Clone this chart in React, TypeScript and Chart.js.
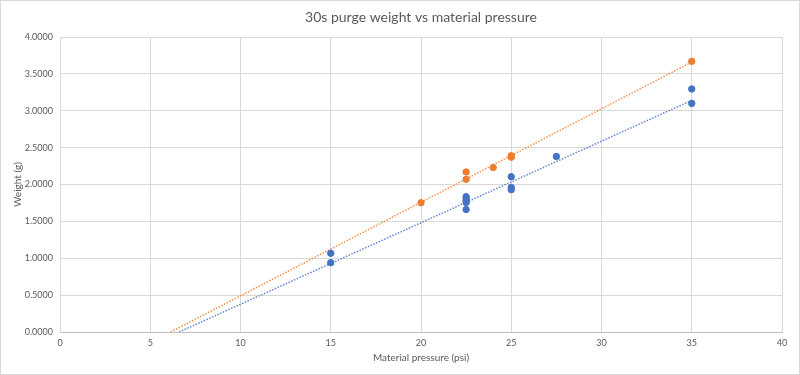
import React, { useEffect, useRef } from "react";
import { Chart, registerables } from "chart.js";

Chart.register(...registerables);

const TITLE = "30s purge weight vs material pressure";
const X_TITLE = "Material pressure (psi)";
const Y_TITLE = "Weight (g)";

const blueX = [15, 15, 22.5, 22.5, 22.5, 22.5, 22.5, 25, 25, 25, 27.5, 35, 35];
const blueY = [1.067, 0.94, 1.835, 1.81, 1.785, 1.755, 1.66, 2.105, 1.96, 1.93, 2.38, 3.295, 3.1];

const orangeX = [20, 22.5, 22.5, 24, 25, 25, 35];
const orangeY = [1.753, 2.17, 2.07, 2.23, 2.39, 2.37, 3.67];

// trendline endpoints
const blueTrendX = [6.6, 35];
const blueTrendY = [0, 3.14];
const orangeTrendX = [6.13, 35];
const orangeTrendY = [0, 3.66];

const BLUE = "#4472C4";
const ORANGE = "#ED7D31";
const GRID = "#d9d9d9";
const TEXT = "#595959";
const FONT = "Lato, 'Open Sans', sans-serif";

const toPts = (xs: number[], ys: number[]) => xs.map((x, i) => ({ x, y: ys[i] }));

const framePlugin = {
  id: "frame",
  beforeDraw(chart: any) {
    const ctx = chart.ctx;
    ctx.save();
    ctx.fillStyle = "#ffffff";
    ctx.fillRect(0, 0, chart.width, chart.height);
    ctx.strokeStyle = "#d9d9d9";
    ctx.lineWidth = 1;
    ctx.strokeRect(0.5, 0.5, chart.width - 1, chart.height - 1);
    ctx.fillStyle = TEXT;
    ctx.font = `14px ${FONT}`;
    ctx.textAlign = "center";
    ctx.textBaseline = "middle";
    ctx.fillText(TITLE, 421, 17);
    ctx.restore();
  },
};

export default function App() {
  const ref = useRef<HTMLCanvasElement | null>(null);
  useEffect(() => {
    const prevMargin = document.body.style.margin;
    document.body.style.margin = "0";
    const chart = new Chart(ref.current as HTMLCanvasElement, {
      type: "scatter",
      data: {
        datasets: [
          {
            label: "Series1",
            data: toPts(blueX, blueY),
            backgroundColor: BLUE,
            borderColor: BLUE,
            pointRadius: 3.2,
            pointHoverRadius: 3.2,
            order: 0,
          },
          {
            label: "Series2",
            data: toPts(orangeX, orangeY),
            backgroundColor: ORANGE,
            borderColor: ORANGE,
            pointRadius: 3.2,
            pointHoverRadius: 3.2,
            order: 0,
          },
          {
            type: "line",
            label: "Trend1",
            data: toPts(blueTrendX, blueTrendY),
            borderColor: "rgba(68,114,196,0.85)",
            borderWidth: 1.5,
            borderDash: [1.5, 1.5],
            pointRadius: 0,
            fill: false,
            order: 1,
          },
          {
            type: "line",
            label: "Trend2",
            data: toPts(orangeTrendX, orangeTrendY),
            borderColor: "rgba(237,125,49,0.85)",
            borderWidth: 1.5,
            borderDash: [1.5, 1.5],
            pointRadius: 0,
            fill: false,
            order: 1,
          },
        ] as any,
      },
      options: {
        animation: false,
        responsive: false,
        maintainAspectRatio: false,
        layout: { padding: { top: 37, right: 18, left: 12, bottom: 0 } },
        plugins: {
          legend: { display: false },
          title: { display: false },
          tooltip: { enabled: false },
        },
        scales: {
          x: {
            type: "linear",
            min: 0,
            max: 40,
            ticks: {
              stepSize: 5,
              color: TEXT,
              font: { family: FONT, size: 9 },
              padding: 6,
            },
            grid: { color: GRID, drawTicks: false },
            border: { color: "#bfbfbf" },
            title: {
              display: true,
              text: X_TITLE,
              color: TEXT,
              font: { family: FONT, size: 10 },
              padding: { top: 4, bottom: 11 },
            },
            afterFit(scale: any) {
              scale.height = 43;
            },
          },
          y: {
            type: "linear",
            min: 0,
            max: 4,
            ticks: {
              stepSize: 0.5,
              color: TEXT,
              font: { family: FONT, size: 9 },
              padding: 7,
              callback: (v: any) => Number(v).toFixed(4),
            },
            grid: { color: GRID, drawTicks: false },
            border: { color: GRID },
            title: {
              display: true,
              text: Y_TITLE,
              color: TEXT,
              font: { family: FONT, size: 10 },
              padding: { top: 0, bottom: 0 },
            },
            afterFit(scale: any) {
              scale.width = 48;
            },
          },
        },
      } as any,
      plugins: [framePlugin],
    });
    return () => {
      chart.destroy();
      document.body.style.margin = prevMargin;
    };
  }, []);
  return (
    <div style={{ position: "absolute", left: 0, top: 0, width: 800, height: 375 }}>
      <canvas ref={ref} width={800} height={375} style={{ width: 800, height: 375 }} />
    </div>
  );
}
